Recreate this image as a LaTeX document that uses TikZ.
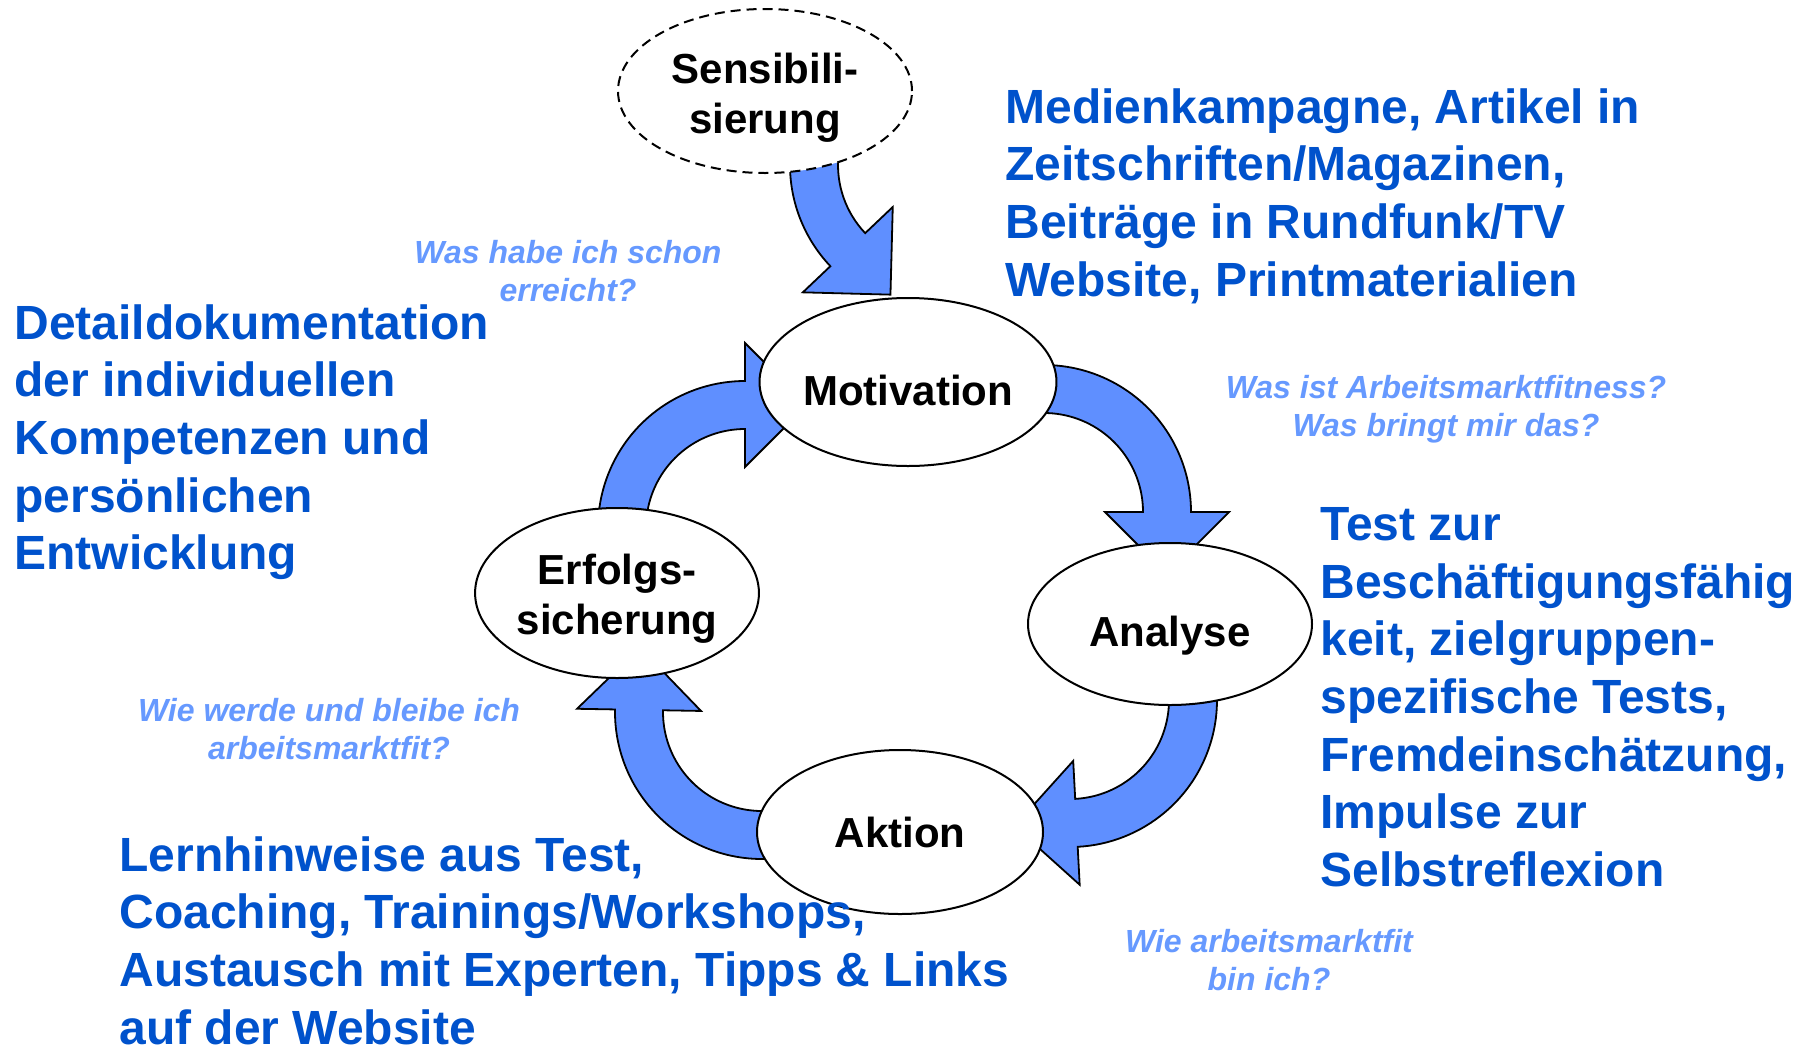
\documentclass[tikz,border=0pt]{standalone}
\usepackage{fontspec}
\setmainfont{Liberation Sans}
\usetikzlibrary{shapes.geometric,calc}
\definecolor{textblue}{RGB}{0,82,204}
\definecolor{askblue}{RGB}{102,153,255}
\definecolor{arrowblue}{RGB}{95,143,255}
% curved block arrow round a pivot: pivot, start angle, end angle, turn (90 / -90)
\newcommand{\cyclearrow}[4]{%
  \filldraw[arrowbody] ($(#1)+(#2:147)$) arc[start angle=#2,end angle=#3,radius=147]
  -- ($(#1)+(#3:185)$) -- ($(#1)+(#3:123)+({#3+#4}:62)$)
  -- ($(#1)+(#3:61)$) -- ($(#1)+(#3:99)$)
  arc[start angle=#3,end angle=#2,radius=99] -- cycle;}

\begin{document}
\begin{tikzpicture}[x=0.5pt,y=-0.5pt,
    stage/.style={ellipse,draw,fill=white,line width=1pt,inner sep=0pt,align=center,
      font=\fontsize{21}{25}\selectfont\bfseries},
    arrowbody/.style={fill=arrowblue,draw=black,line width=0.9pt,line join=miter},
    info/.style={text=textblue,inner sep=0pt,align=left,
      font=\fontsize{24}{28.85}\selectfont\bfseries},
    ask/.style={text=askblue,inner sep=0pt,align=center,
      font=\fontsize{16}{19}\selectfont\bfseries\itshape}]
  \useasboundingbox (0,0) rectangle (1809,1050);
  % Arrows (below the stages)
  \coordinate (pivSens) at (937,165);
  \coordinate (pivMot) at (1044,512);
  \coordinate (pivAna) at (1070,700);
  \coordinate (pivAkt) at (762,712);
  \coordinate (pivErf) at (745,528);
  \cyclearrow{pivSens}{185}{136.5}{-90}
  \cyclearrow{pivMot}{-100}{0}{90}
  \cyclearrow{pivAna}{-10}{87}{90}
  \cyclearrow{pivAkt}{80}{181}{90}
  \cyclearrow{pivErf}{175}{270}{90}
  % Stages
  \node[stage,dashed,dash pattern=on 5pt off 3pt,minimum width=147pt,minimum height=82pt]
    (sens) at (765,91) {\rule{0pt}{21.5pt}Sensibili-\\sierung};
  \node[stage,text height=23.3pt,minimum width=141pt,minimum height=84pt]
    (motiv) at (908,382) {Motivation};
  \node[stage,text height=27pt,minimum width=142pt,minimum height=81pt]
    (analyse) at (1170,624) {Analyse};
  \node[stage,minimum width=143pt,minimum height=82pt] (aktion) at (900,832) {Aktion};
  \node[stage,minimum width=141pt,minimum height=85pt]
    (erfolg) at (617,593) {\rule{0pt}{20.5pt}Erfolgs-\\sicherung};
  % Measures
  \node[info,anchor=north west] (medien) at (1005,88)
    {Medienkampagne, Artikel in\\Zeitschriften/Magazinen,\\Beiträge in Rundfunk/TV\\Website, Printmaterialien};
  \node[info,anchor=north west] (doku) at (14,304)
    {Detaildokumentation\\der individuellen\\Kompetenzen und\\persönlichen\\Entwicklung};
  \node[info,anchor=north west] (tests) at (1320,507)
    {Test zur\\Beschäftigungsfähig\\keit, zielgruppen-\\spezifische Tests,\\Fremdeinschätzung,\\Impulse zur\\Selbstreflexion};
  \node[info,anchor=north west] (lernen) at (119,836)
    {Lernhinweise aus Test,\\Coaching, Trainings/Workshops,\\Austausch mit Experten, Tipps \& Links\\auf der Website};
  % Questions
  \node[ask,anchor=north] (qerreicht) at (568,240) {Was habe ich schon\\erreicht?};
  \node[ask,anchor=north] (qfitness) at (1446,375) {Was ist Arbeitsmarktfitness?\\Was bringt mir das?};
  \node[ask,anchor=north] (qbleibe) at (329,698) {Wie werde und bleibe ich\\arbeitsmarktfit?};
  \node[ask,anchor=north] (qbinich) at (1269,929) {Wie arbeitsmarktfit\\bin ich?};
\end{tikzpicture}
\end{document}
